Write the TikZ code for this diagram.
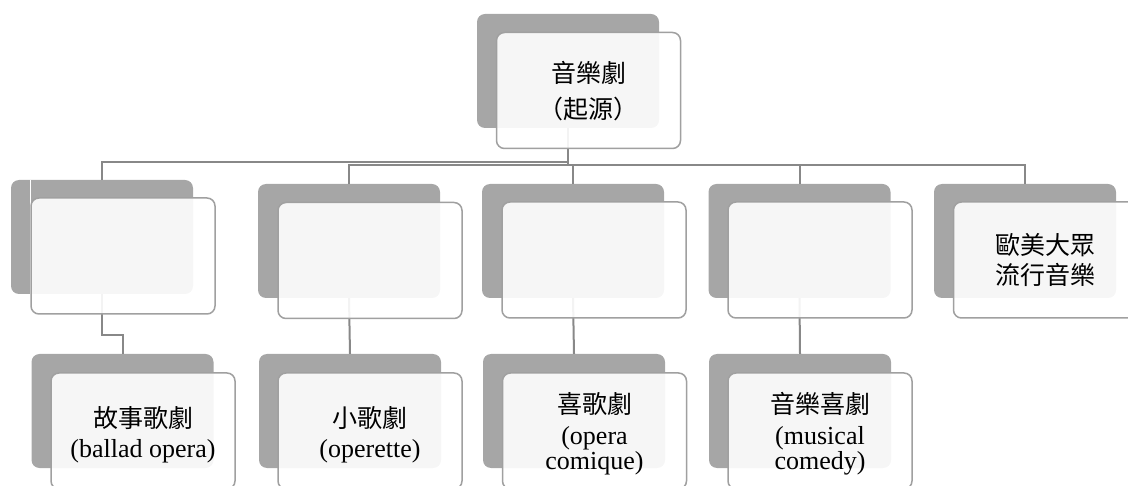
\documentclass[tikz,border=0pt]{standalone}
\usepackage{fontspec}
\setmainfont{Liberation Serif}
\newfontfamily\cjk{Noto Sans CJK TC}
\definecolor{boxdark}{HTML}{A6A6A6}
\definecolor{boxedge}{HTML}{A0A0A0}
\definecolor{connline}{HTML}{888888}
\begin{document}
\begin{tikzpicture}[x=1pt,y=-1pt,
  darkbox/.style={fill=boxdark, rounded corners=8pt, minimum width=182pt, minimum height=114pt, inner sep=0pt},
  frontbox/.style={draw=boxedge, line width=1.5pt, fill=white, fill opacity=0.9,
    rounded corners=8pt, minimum width=184pt, minimum height=116pt, inner sep=0pt},
  txt/.style={align=center, inner sep=0pt, font=\fontsize{26}{30}\selectfont},
  zh/.style={font=\cjk\fontsize{25}{30}\selectfont},
  conn/.style={draw=connline, line width=2pt}]
\useasboundingbox (0,0) rectangle (1128,486);
\clip (0,0) rectangle (1128,486);
% dark back boxes
\node[darkbox] (topd) at (568,71) {};
\node[darkbox] (b1d) at (102,237) {};
\node[darkbox] (b2d) at (349,241) {};
\node[darkbox] (b3d) at (573,241) {};
\node[darkbox] (b4d) at (799.5,241) {};
\node[darkbox] (b5d) at (1025,241) {};
\node[darkbox] (c1d) at (122.5,411) {};
\node[darkbox] (c2d) at (350,411) {};
\node[darkbox] (c3d) at (574,411) {};
\node[darkbox] (c4d) at (800,411) {};
\draw[white, line width=1pt] (30,180) -- (30,295);
% connectors
\draw[conn] (topd.south) -- ++(0,34) -| (b1d.north);
\draw[conn] (topd.south) -- ++(0,37) -| (b2d.north);
\draw[conn] (topd.south) -- ++(0,37) -| (b3d.north);
\draw[conn] (topd.south) -- ++(0,37) -| (b4d.north);
\draw[conn] (topd.south) -- ++(0,37) -| (b5d.north);
\draw[conn] (b1d.south) -- ++(0,41) -| (c1d.north);
\draw[conn] (b2d.south) -- (c2d.north);
\draw[conn] (b3d.south) -- (c3d.north);
\draw[conn] (b4d.south) -- (c4d.north);
% front boxes
\node[frontbox] (top) at (588.5,90.5) {};
\node[frontbox] (b1) at (123,256) {};
\node[frontbox] (b2) at (370,260.5) {};
\node[frontbox] (b3) at (594,260) {};
\node[frontbox] (b4) at (820,260) {};
\node[frontbox] (b5) at (1045.5,260) {};
\node[frontbox] (c1) at (143,431) {};
\node[frontbox] (c2) at (370,431) {};
\node[frontbox] (c3) at (594.5,431) {};
\node[frontbox] (c4) at (820,431) {};
% texts
\node[txt, font=\cjk\fontsize{25}{36}\selectfont] (topt) at ([yshift=-1pt]top.center) {音樂劇\\（起源）};
\node[txt, zh] (b5t) at (b5.center) {歐美大眾\\流行音樂};
\node[txt] (c1t) at ([yshift=-3.5pt]c1.center) {{\cjk\fontsize{25}{30}\selectfont 故事歌劇}\\(ballad opera)};
\node[txt] (c2t) at ([yshift=-3.5pt]c2.center) {{\cjk\fontsize{25}{30}\selectfont 小歌劇}\\(operette)};
\node[txt] (c3t) at ([yshift=-2.5pt]c3.center) {{\cjk\fontsize{25}{30}\selectfont 喜歌劇}\\[1pt](opera\\[-5pt]comique)};
\node[txt] (c4t) at ([yshift=-2.5pt]c4.center) {{\cjk\fontsize{25}{30}\selectfont 音樂喜劇}\\[1pt](musical\\[-5pt]comedy)};
\end{tikzpicture}
\end{document}
